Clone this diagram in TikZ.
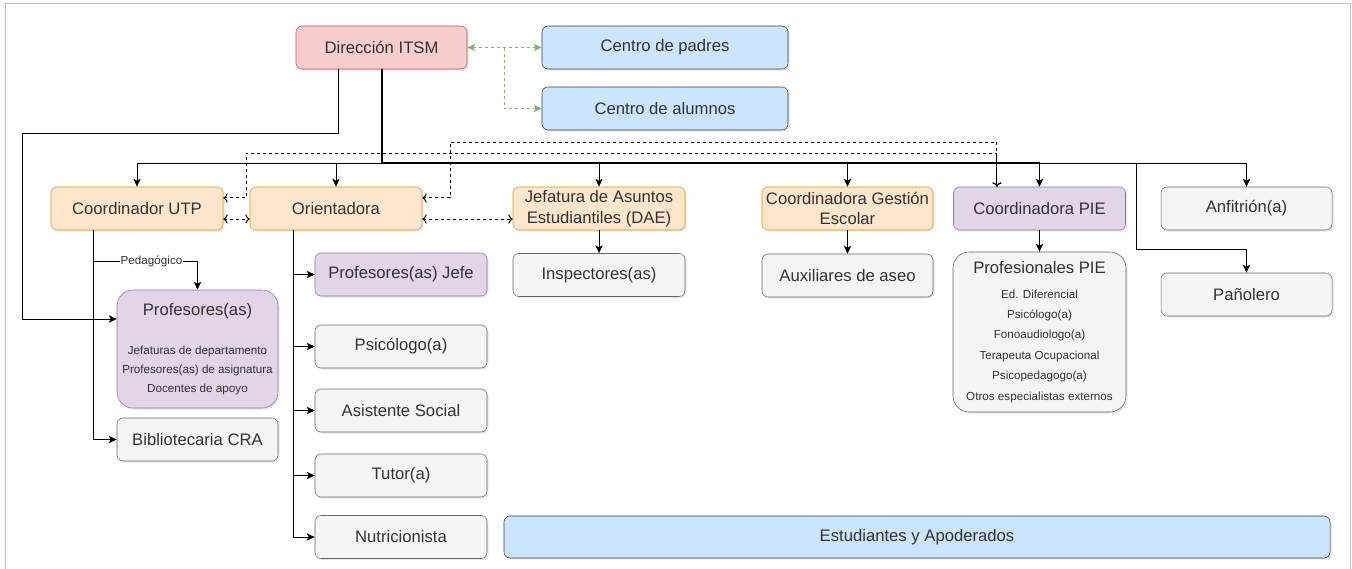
\documentclass[tikz,border=0pt]{standalone}
\usepackage{fontspec}
\setmainfont{Liberation Sans}
\usetikzlibrary{arrows.meta,shadows,calc}

\definecolor{txt}{HTML}{333333}
\definecolor{framegray}{HTML}{BFBFBF}
\definecolor{redfill}{HTML}{F8CECC}
\definecolor{redline}{HTML}{B85450}
\definecolor{bluefill}{HTML}{CCE5FF}
\definecolor{blueline}{HTML}{36393D}
\definecolor{orangefill}{HTML}{FFE6CC}
\definecolor{orangeline}{HTML}{D79B00}
\definecolor{purplefill}{HTML}{E1D5E7}
\definecolor{purpleline}{HTML}{9673A6}
\definecolor{grayfill}{HTML}{F5F5F5}
\definecolor{grayline}{HTML}{666666}
\definecolor{greenline}{HTML}{82B366}

\tikzset{
  box/.style={draw, rounded corners=4.5pt, minimum width=129pt, minimum height=32.25pt,
    inner sep=1pt, align=center, text=txt, font=\fontsize{12.5}{15.5}\selectfont,
    drop shadow={shadow xshift=1.3pt, shadow yshift=-1.3pt, opacity=0.18}},
  redbox/.style={box, fill=redfill, draw=redline},
  bluebox/.style={box, fill=bluefill, draw=blueline},
  orangebox/.style={box, fill=orangefill, draw=orangeline},
  purplebox/.style={box, fill=purplefill, draw=purpleline},
  graybox/.style={box, fill=grayfill, draw=grayline},
  conn/.style={draw=black, line width=0.75pt, -{Stealth[length=6pt,width=5.5pt,inset=1.5pt]}},
  dconn/.style={conn, dash pattern=on 2.25pt off 2.25pt},
  gconn/.style={dconn, draw=greenline, {Stealth[length=6pt,width=5.5pt,inset=1.5pt]}-{Stealth[length=6pt,width=5.5pt,inset=1.5pt]}},
  lbl/.style={fill=white, inner sep=0.5pt, text=txt, font=\fontsize{8.75}{10}\selectfont}
}

\begin{document}
\begin{tikzpicture}[x=0.75pt, y=-0.75pt]
        % Canvas and frame
        \useasboundingbox[fill=white] (0,0) rectangle (1352,568);
        \draw[framegray] (5,3) rectangle (1350,580);

        % Top level
        \node[redbox, minimum width=128.25pt] (dir) at (381.5,47.5) {Dirección ITSM};
        \node[bluebox, minimum width=184.5pt] (padres) at (665,47.5) {Centro de padres};
        \node[bluebox, minimum width=184.5pt] (alumnos) at (665,108.5) {Centro de alumnos};

        % Second row
        \node[orangebox] (utp) at (137,208.5) {Coordinador UTP};
        \node[orangebox] (ori) at (336,208.5) {Orientadora};
        \node[orangebox] (dae) at (599,208.5) {Jefatura de Asuntos\\Estudiantiles (DAE)};
        \node[orangebox, minimum width=128.25pt] (cge) at (847.5,208.5) {Coordinadora Gestión\\Escolar};
        \node[purplebox] (cpie) at (1039.5,208.5) {Coordinadora PIE};
        \node[graybox, minimum width=128.25pt] (anf) at (1246.5,208.5) {Anfitrión(a)};

        % Under Coordinador UTP
        \node[purplebox, rounded corners=12pt, minimum width=120.75pt, minimum height=88.5pt,
              font=\fontsize{8.75}{14.25}\selectfont] (prof) at (197.5,349)
              {{\fontsize{12.5}{15}\selectfont Profesores(as)}\\[15.5pt]
               Jefaturas de departamento\\ Profesores(as) de asignatura\\ Docentes de apoyo};
        \node[graybox, minimum width=120.75pt] (bib) at (197.5,439.5) {Bibliotecaria CRA};

        % Under Orientadora
        \node[purplebox] (jefe) at (401,274.5) {Profesores(as) Jefe};
        \node[graybox] (psi) at (401,346.5) {Psicólogo(a)};
        \node[graybox] (asis) at (401,410.5) {Asistente Social};
        \node[graybox] (tut) at (401,475.5) {Tutor(a)};
        \node[graybox] (nut) at (401,537) {Nutricionista};

        % Other children
        \node[graybox] (insp) at (599,275) {Inspectores(as)};
        \node[graybox, minimum width=128.25pt] (aux) at (847.5,275.5) {Auxiliares de aseo};
        \node[graybox, rounded corners=12pt, minimum width=129.75pt, minimum height=120pt,
              font=\fontsize{8.75}{15.3}\selectfont] (ppie) at (1039.5,332)
              {{\fontsize{12.5}{15}\selectfont Profesionales PIE}\\[3pt]
               Ed. Diferencial\\ Psicólogo(a)\\ Fonoaudiologo(a)\\ Terapeuta Ocupacional\\
               Psicopedagogo(a)\\ Otros especialistas externos};
        \node[graybox, minimum width=128.25pt] (pan) at (1246.5,294.5) {Pañolero};
        \node[bluebox, minimum width=619.5pt, minimum height=31.5pt] (est) at (917,537) {Estudiantes y Apoderados};

        % Bend points
        \coordinate (bus) at (381.5,163);
        \coordinate (left) at (22,133);
        \coordinate (panbend) at (1136,249);
        \coordinate (ped) at (93,261);
        \coordinate (da) at (246,153);
        \coordinate (db) at (450,142);
        \coordinate (gsplit) at (504,47.5);

        % Green links to the centros
        \draw[gconn] (dir.east) -- (padres.west);
        \draw[dconn, draw=greenline] (gsplit) |- (alumnos.west);

        % Direction to second row
        \foreach \n in {utp,ori,dae,cge,cpie,anf}
          \draw[conn] (dir.south) -- (bus) -| (\n.north);
        \draw[conn] (dir.south) -- (bus) -| (panbend) -| (pan.north);
        \draw[line width=1.5pt] (dir.south) -- (bus) -- (bus -| cpie.north);
        \draw[conn] ([xshift=-32.6pt]dir.south) |- (left) |- ([yshift=22.5pt]prof.west);

        % Dashed coordination
        \draw[dconn, <->] ([yshift=7.9pt]utp.east) -| (da) -| ([xshift=-31.9pt]cpie.north);
        \draw[dconn, <->] ([yshift=7.9pt]ori.east) -| (db) -| ([xshift=-31.9pt]cpie.north);
        \draw[dconn, <->] ([yshift=-7.9pt]utp.east) -- ([yshift=-7.9pt]ori.west);
        \draw[dconn, <->] ([yshift=-7.9pt]ori.east) -- ([yshift=-7.9pt]dae.west);

        % Coordinador UTP branches
        \draw[conn] ([xshift=-33pt]utp.south) |- (bib.west);
        \draw[conn] (ped) -| node[lbl, pos=0.28] {Pedagógico} (prof.north);

        % Orientadora branches
        \foreach \n in {jefe,psi,asis,tut,nut}
          \draw[conn] ([xshift=-32.25pt]ori.south) |- (\n.west);

        % Single children
        \draw[conn] (dae) -- (insp);
        \draw[conn] (cge) -- (aux);
        \draw[conn] (cpie) -- (ppie);

\end{tikzpicture}
\end{document}
